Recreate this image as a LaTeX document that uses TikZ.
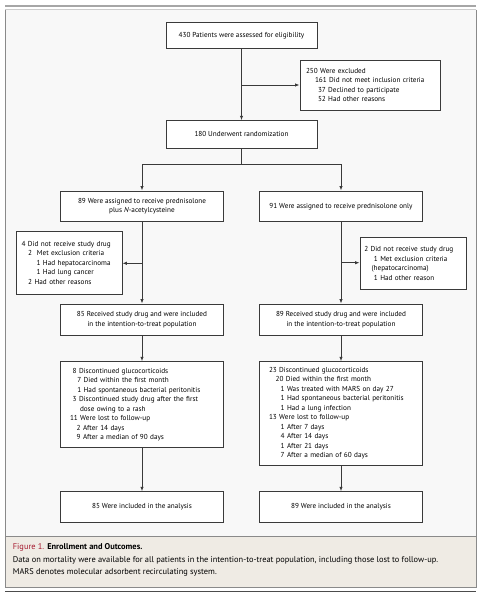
\documentclass[tikz,border=0pt]{standalone}
\usepackage{fontspec}
\setmainfont{PT Sans}
\usetikzlibrary{arrows.meta}
\definecolor{panelbg}{HTML}{F8F8F8}
\definecolor{capbg}{HTML}{EFEBE4}
\definecolor{framec}{HTML}{8A8A8A}
\definecolor{boxline}{HTML}{3A3A3A}
\definecolor{figred}{HTML}{A6192E}
\newcommand\Li[2]{\mbox{\hspace*{#1pt}#2}}
\begin{document}
\begin{tikzpicture}[x=1pt,y=-1pt,
  box/.style={draw=boxline, fill=white, line width=0.8pt, inner sep=0pt,
    font=\fontsize{7.2}{9.5}\selectfont},
  cbox/.style={box, align=center, minimum width=#1},
  arr/.style={draw=boxline, line width=0.8pt, -{Latex[length=4.5pt,width=3.4pt]}},
  conn/.style={draw=boxline, line width=0.8pt}]
\useasboundingbox (0,0) rectangle (481,600);
% frame and caption panel
\fill[panelbg] (5,9.5) rectangle (476,536.7);
\draw[framec, line width=1pt] (5,536.7) -- (5,9.5);
\draw[gray!40, line width=1pt] (5,9.5) -- (476,9.5);
\draw[framec, line width=1pt] (476,9.5) -- (476,536.7);
\fill[capbg] (5,536.7) rectangle (476,587);
\draw[framec, line width=1pt] (5,536.7) rectangle (476,587);
\draw[gray!70, line width=1.7pt] (5,6.3) -- (476,6.3);
\draw[black!70, line width=1.2pt] (5,591.7) -- (476,591.7);
% boxes
\node[cbox=151, minimum height=26] (b430) at (241.5,35.7) {430 Patients were assessed for eligibility};
\node[box, text width=128, inner xsep=6, minimum height=50, align=left] (excl) at (370,85) {%
\Li{0}{250 Were excluded}\\
\Li{9}{161 Did not meet inclusion criteria}\\
\Li{12}{37 Declined to participate}\\
\Li{12}{52 Had other reasons}};
\node[cbox=151, minimum height=27.3] (b180) at (241.5,134.3) {180 Underwent randomization};
\node[cbox=162.6, minimum height=30.7] (bA) at (142,206.3) {89 Were assigned to receive prednisolone\\plus \emph{N}-acetylcysteine};
\node[cbox=163.4, minimum height=30.7] (bB) at (341,206.3) {91 Were assigned to receive prednisolone only};
\node[box, text width=95.3, inner xsep=5, minimum height=62.3, align=left] (sideA) at (69.3,262.8) {%
\Li{0}{4 Did not receive study drug}\\
\Li{6.6}{2\ \ Met exclusion criteria}\\
\Li{15}{1 Had hepatocarcinoma}\\
\Li{15}{1 Had lung cancer}\\
\Li{6.6}{2 Had other reasons}};
\node[box, text width=98.1, inner xsep=4.3, minimum height=52, align=left] (sideB) at (413.3,263.3) {%
\Li{0}{2 Did not receive study drug}\\
\Li{9.7}{1 Met exclusion criteria}\\
\Li{7.4}{(hepatocarcinoma)}\\
\Li{9.7}{1 Had other reason}};
\node[cbox=162.6, minimum height=31] (cA) at (142,319.5) {85 Received study drug and were included\\in the intention-to-treat population};
\node[cbox=163.4, minimum height=31] (cB) at (341,319.5) {89 Received study drug and were included\\in the intention-to-treat population};
\node[box, text width=144, inner xsep=9.3, minimum height=85.6, align=left] (dA) at (142,404.5) {%
\Li{2.7}{8 Discontinued glucocorticoids}\\
\Li{7.3}{7 Died within the first month}\\
\Li{7.3}{1 Had spontaneous bacterial peritonitis}\\
\Li{2.7}{3 Discontinued study drug after the first}\\
\Li{10}{dose owing to a rash}\\
\Li{0}{11 Were lost to follow-up}\\
\Li{6.7}{2 After 14 days}\\
\Li{6.7}{9 After a median of 90 days}};
\node[box, text width=144, inner xsep=9.7, minimum height=103.3, align=left] (dB) at (341,413.3) {%
\Li{0}{23 Discontinued glucocorticoids}\\
\Li{6.7}{20 Died within the first month}\\
\Li{11.7}{1 Was treated with MARS on day 27}\\
\Li{11.7}{1 Had spontaneous bacterial peritonitis}\\
\Li{11.7}{1 Had a lung infection}\\
\Li{0}{13 Were lost to follow-up}\\
\Li{11.7}{1 After 7 days}\\
\Li{11.7}{4 After 14 days}\\
\Li{11.7}{1 After 21 days}\\
\Li{11.7}{7 After a median of 60 days}};
\node[cbox=162.6, minimum height=30.6] (eA) at (142,507) {85 Were included in the analysis};
\node[cbox=163.4, minimum height=30.6] (eB) at (341,507) {89 Were included in the analysis};
% connectors
\coordinate (j1) at (241.5,85);
\coordinate (split) at (241.5,164);
\coordinate (jA) at (142,263.3);
\coordinate (jB) at (341,262.7);
\draw[arr] (b430) -- (b180);
\draw[arr] (j1) -- (j1 -| excl.west);
\draw[conn] (b180) -- (split);
\draw[arr] (split) -| (bA);
\draw[arr] (split) -| (bB);
\draw[arr] (bA) -- (cA);
\draw[arr] (bB) -- (cB);
\draw[arr] (jA) -- (jA -| sideA.east);
\draw[arr] (jB) -- (jB -| sideB.west);
\draw[arr] (cA) -- (dA);
\draw[arr] (cB) -- (dB);
\draw[arr] (dA) -- (eA);
\draw[arr] (dB) -- (eB);
% caption
\node[anchor=north west, inner sep=0pt, align=left, font=\fontsize{8.4}{12.8}\selectfont] (cap) at (12.7,543) {%
\textcolor{figred}{Figure 1.} \textbf{Enrollment and Outcomes.}\\
Data on mortality were available for all patients in the intention-to-treat population, including those lost to follow-up.\\
MARS denotes molecular adsorbent recirculating system.};
\end{tikzpicture}
\end{document}
